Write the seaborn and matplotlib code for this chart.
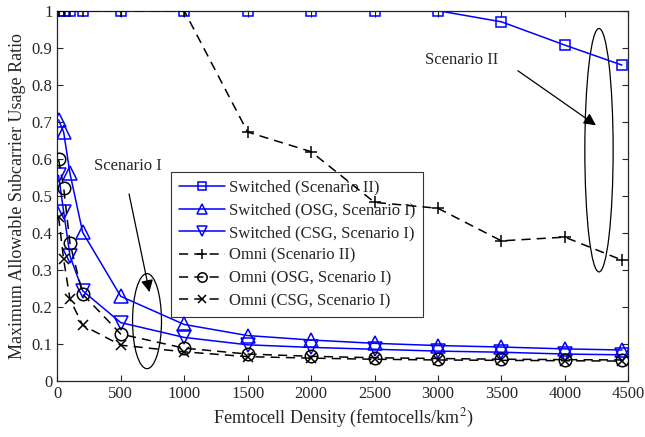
import matplotlib
matplotlib.use("Agg")
import matplotlib.pyplot as plt
import seaborn as sns
from matplotlib.patches import Ellipse

# femtocell densities (femtocells/km^2)
density = [10, 50, 100, 200, 500, 1000, 1500, 2000, 2500, 3000, 3500, 4000, 4450]

sw_scen2 = [1.0, 1.0, 1.0, 1.0, 1.0, 1.0, 1.0, 1.0, 1.0, 1.0, 0.970, 0.907, 0.853]
sw_osg = [0.705, 0.672, 0.560, 0.401, 0.228, 0.152, 0.122, 0.110, 0.101, 0.095, 0.091, 0.086, 0.083]
sw_csg = [0.555, 0.457, 0.337, 0.243, 0.157, 0.117, 0.097, 0.090, 0.085, 0.080, 0.077, 0.072, 0.070]
om_scen2 = [1.0, 1.0, 1.0, 1.0, 1.0, 1.0, 0.672, 0.619, 0.482, 0.466, 0.378, 0.388, 0.326]
om_osg = [0.598, 0.522, 0.371, 0.234, 0.126, 0.088, 0.072, 0.066, 0.062, 0.060, 0.058, 0.057, 0.056]
om_csg = [0.443, 0.328, 0.220, 0.150, 0.096, 0.078, 0.065, 0.061, 0.058, 0.056, 0.055, 0.054, 0.053]

sns.set_style("ticks")
plt.rcParams['font.family'] = ['Liberation Serif', 'DejaVu Serif']
plt.rcParams['mathtext.fontset'] = 'stix'
plt.rcParams['xtick.direction'] = 'in'
plt.rcParams['ytick.direction'] = 'in'

fig = plt.figure(figsize=(6.45, 4.37), dpi=100)
ax = fig.add_axes([57.3 / 645, 1 - 380.7 / 437, 571 / 645, 370 / 437])

blue = '#0000ff'
common = dict(markerfacecolor='none', linewidth=1.1, markeredgewidth=1.1, zorder=3)
dash = (0, (6, 4))

sns.lineplot(x=density, y=sw_scen2, ax=ax, color=blue, marker='s', markersize=7,
             markeredgecolor=blue, label='Switched (Scenario II)', **common)
sns.lineplot(x=density, y=sw_osg, ax=ax, color=blue, marker='^', markersize=10,
             markeredgecolor=blue, label='Switched (OSG, Scenario I)', **common)
sns.lineplot(x=density, y=sw_csg, ax=ax, color=blue, marker='v', markersize=10,
             markeredgecolor=blue, label='Switched (CSG, Scenario I)', **common)
sns.lineplot(x=density, y=om_scen2, ax=ax, color='black', marker='+', markersize=9,
             markeredgecolor='black', linestyle=dash, label='Omni (Scenario II)', **common)
sns.lineplot(x=density, y=om_osg, ax=ax, color='black', marker='o', markersize=9,
             markeredgecolor='black', linestyle=dash, label='Omni (OSG, Scenario I)', **common)
sns.lineplot(x=density, y=om_csg, ax=ax, color='black', marker='x', markersize=7,
             markeredgecolor='black', linestyle=dash, label='Omni (CSG, Scenario I)', **common)

ax.set_xlim(0, 4500)
ax.set_ylim(0, 1)
ax.set_xticks(range(0, 4501, 500))
ax.set_yticks([i / 10 for i in range(11)])
ax.set_yticklabels(['0'] + ['%.1f' % (i / 10) for i in range(1, 10)] + ['1'])
ax.tick_params(top=True, right=True, labelsize=12, length=4, width=0.8)
for s in ax.spines.values():
    s.set_linewidth(0.9)
    s.set_visible(True)

ax.set_xlabel('Femtocell Density (femtocells/km$^2$)', fontsize=13)
ax.set_ylabel('Maximum Allowable Subcarrier Usage Ratio', fontsize=13)

# annotations: ellipses and arrows
ax.add_patch(Ellipse((707, 0.161), 228, 0.257, fill=False, edgecolor='black', linewidth=0.9))
ax.add_patch(Ellipse((4269, 0.623), 223, 0.658, fill=False, edgecolor='black', linewidth=0.9))
ax.annotate('', xy=(731, 0.232), xytext=(561, 0.512),
            arrowprops=dict(arrowstyle='-|>', color='black', lw=0.9, mutation_scale=18))
ax.annotate('', xy=(4263, 0.686), xytext=(3612, 0.842),
            arrowprops=dict(arrowstyle='-|>', color='black', lw=0.9, mutation_scale=18))
ax.text(559, 0.58, 'Scenario I', ha='center', va='center', fontsize=12)
ax.text(3189, 0.867, 'Scenario II', ha='center', va='center', fontsize=12)

leg = ax.legend(loc='upper left', bbox_to_anchor=((171 - 57.3) / 571, (380.7 - 172.3) / 370),
                fontsize=12, frameon=True, fancybox=False, edgecolor='black',
                borderpad=0.45, labelspacing=0.4, handlelength=2.8, handletextpad=0.25,
                borderaxespad=0, markerscale=0.75)
leg.get_frame().set_linewidth(0.8)
leg.set_zorder(2)

fig.savefig('out.png', dpi=100)
